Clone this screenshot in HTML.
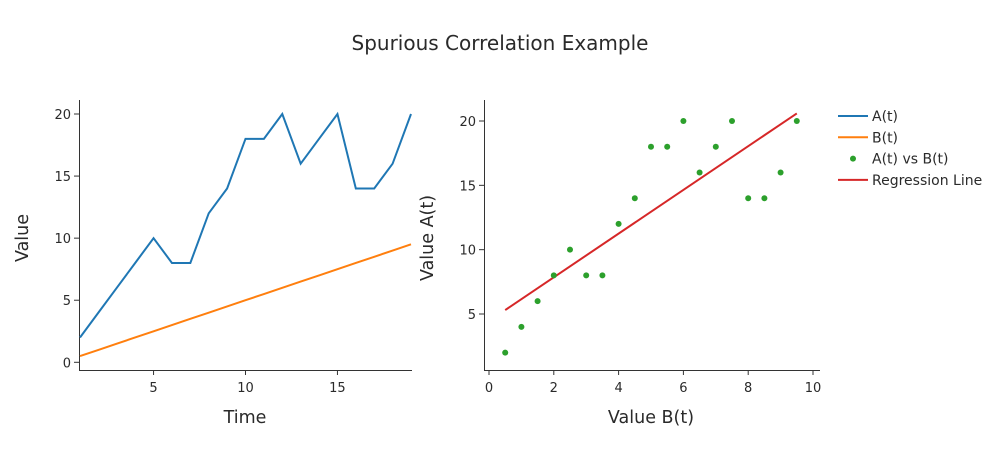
<!DOCTYPE html>
<html><head><meta charset="utf-8"><style>
body{margin:0;background:#fff;font-family:"DejaVu Sans","Liberation Sans",sans-serif}
svg text{fill:#2a2a2a}
</style></head><body>
<svg id="c" width="1000" height="450" xmlns="http://www.w3.org/2000/svg">
<text x="500" y="50" text-anchor="middle" font-size="20">Spurious Correlation Example</text>
<g id="left"></g>
<g id="right"></g>
<g id="legend"></g>
</svg>
<script>
const times=[1,2,3,4,5,6,7,8,9,10,11,12,13,14,15,16,17,18,19];
const seriesA=[2,4,6,8,10,8,8,12,14,18,18,20,16,18,20,14,14,16,20];
const seriesB=[0.5,1,1.5,2,2.5,3,3.5,4,4.5,5,5.5,6,6.5,7,7.5,8,8.5,9,9.5];
const leftXTicks=[5,10,15];
const leftYTicks=[0,5,10,15,20];
const rightXTicks=[0,2,4,6,8,10];
const rightYTicks=[5,10,15,20];
const legendLabels=["A(t)","B(t)","A(t) vs B(t)","Regression Line"];

const NS="http://www.w3.org/2000/svg";
function mk(p,t,a){const e=document.createElementNS(NS,t);for(const k in a)e.setAttribute(k,a[k]);p.appendChild(e);return e;}
const L=document.getElementById('left'),R=document.getElementById('right'),G=document.getElementById('legend');
const lx=v=>80+(v-1)*(411-80)/18, ly=v=>362.3-v*(362.3-114)/20;
let e;
e=mk(L,'line',{x1:79.5,y1:100,x2:79.5,y2:370.5,stroke:'#333','stroke-width':1});

e=mk(L,'line',{x1:79,y1:370.5,x2:412,y2:370.5,stroke:'#333','stroke-width':1});

leftXTicks.forEach(t=>{mk(L,'line',{x1:lx(t),y1:370,x2:lx(t),y2:375,stroke:'#333'});
 e=mk(L,'text',{x:lx(t),y:392,'text-anchor':'middle','font-size':13});e.textContent=t;
 });
leftYTicks.forEach(t=>{mk(L,'line',{x1:74,y1:ly(t),x2:79,y2:ly(t),stroke:'#333'});
 e=mk(L,'text',{x:71,y:ly(t)+5,'text-anchor':'end','font-size':13});e.textContent=t;
 });
e=mk(L,'text',{x:245,y:423,'text-anchor':'middle','font-size':17.5});e.textContent='Time';

e=mk(L,'text',{x:0,y:0,'text-anchor':'middle','font-size':17.5,transform:'translate(28,238) rotate(-90)'});e.textContent='Value';

e=mk(L,'polyline',{points:times.map((t,i)=>lx(t)+','+ly(seriesA[i])).join(' '),fill:'none',stroke:'#1f77b4','stroke-width':2});

e=mk(L,'polyline',{points:times.map((t,i)=>lx(t)+','+ly(seriesB[i])).join(' '),fill:'none',stroke:'#ff7f0e','stroke-width':2});

const rx=v=>489+v*(813-489)/10, ry=v=>121+(20-v)*(314-121)/15;
e=mk(R,'line',{x1:484.5,y1:100,x2:484.5,y2:370.5,stroke:'#333'});

e=mk(R,'line',{x1:484,y1:370.5,x2:820,y2:370.5,stroke:'#333'});

rightXTicks.forEach(t=>{mk(R,'line',{x1:rx(t),y1:370,x2:rx(t),y2:375,stroke:'#333'});
 e=mk(R,'text',{x:rx(t),y:392,'text-anchor':'middle','font-size':13});e.textContent=t;
 });
rightYTicks.forEach(t=>{mk(R,'line',{x1:479,y1:ry(t),x2:484,y2:ry(t),stroke:'#333'});
 e=mk(R,'text',{x:476,y:ry(t)+5,'text-anchor':'end','font-size':13});e.textContent=t;
 });
e=mk(R,'text',{x:651,y:423,'text-anchor':'middle','font-size':17.5});e.textContent='Value B(t)';

e=mk(R,'text',{x:0,y:0,'text-anchor':'middle','font-size':17.5,transform:'translate(433,238) rotate(-90)'});e.textContent='Value A(t)';

const n=seriesB.length,mb=seriesB.reduce((a,b)=>a+b)/n,ma=seriesA.reduce((a,b)=>a+b)/n;
let sxy=0,sxx=0;seriesB.forEach((b,i)=>{sxy+=(b-mb)*(seriesA[i]-ma);sxx+=(b-mb)**2;});
const slope=sxy/sxx,icpt=ma-slope*mb;
const b0=Math.min(...seriesB),b1=Math.max(...seriesB);
e=mk(R,'line',{x1:rx(b0),y1:ry(icpt+slope*b0),x2:rx(b1),y2:ry(icpt+slope*b1),stroke:'#d62728','stroke-width':2});

seriesB.forEach((b,i)=>{e=mk(R,'circle',{cx:rx(b),cy:ry(seriesA[i]),r:3,fill:'#2ca02c'});
 });
const cols=['#1f77b4','#ff7f0e','#2ca02c','#d62728'];
legendLabels.forEach((lab,i)=>{const y=116+i*21.3;
 const g=mk(G,'g',{});
 
 if(i==2)mk(g,'circle',{cx:853,cy:y,r:3,fill:cols[i]});
 else mk(g,'line',{x1:838,y1:y,x2:868,y2:y,stroke:cols[i],'stroke-width':2});
 const t=mk(g,'text',{x:872,y:y+5,'font-size':14});t.textContent=lab;});
</script>
</body></html>
